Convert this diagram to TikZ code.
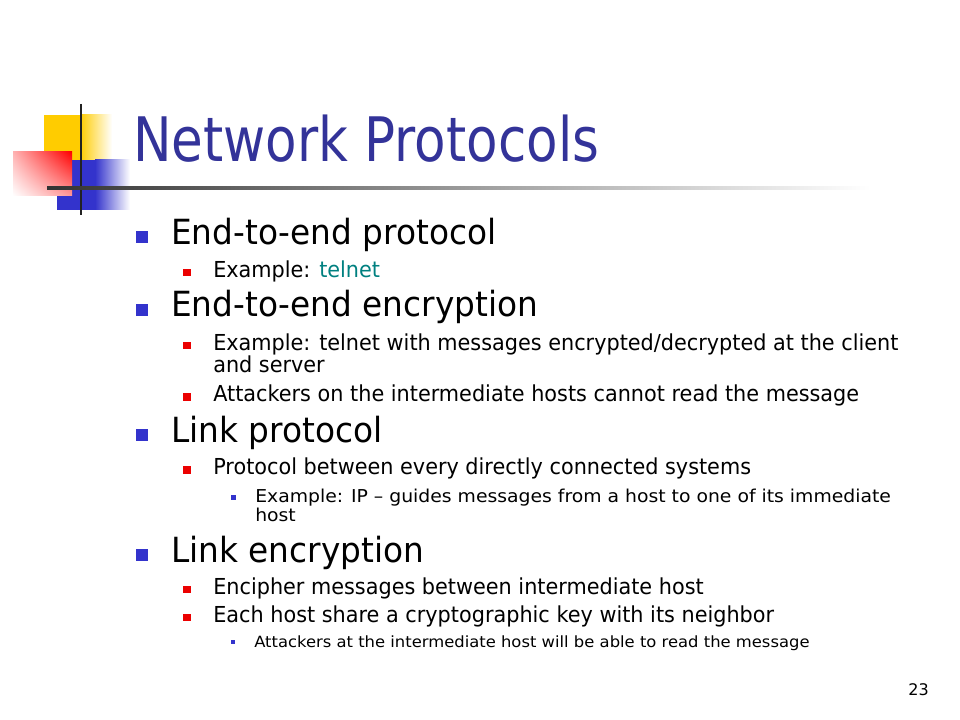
\documentclass[tikz,border=0pt]{standalone}
\usepackage{fontspec}
\usetikzlibrary{shadings}
\setmainfont{DejaVu Sans}
\newfontfamily\titlefont[FakeStretch=0.84]{DejaVu Sans}
\newfontfamily\bodyfont[FakeStretch=0.945]{DejaVu Sans}
\newfontfamily\subfont[FakeStretch=1.06]{DejaVu Sans}

\definecolor{titleblue}{RGB}{51,51,153}
\definecolor{bulblue}{RGB}{51,51,204}
\definecolor{bulred}{RGB}{235,0,0}
\definecolor{logoyellow}{RGB}{255,204,0}
\definecolor{logoline}{RGB}{34,34,34}
\definecolor{telnetteal}{RGB}{0,128,128}

\tikzstyle{titletext}=[anchor=base west, inner sep=0, text=titleblue, font=\titlefont\fontsize{46}{50}\selectfont]
\tikzstyle{lvlone}=[anchor=base west, inner sep=0, font=\bodyfont\fontsize{26}{30}\selectfont]
\tikzstyle{lvltwo}=[anchor=base west, inner sep=0, font=\bodyfont\fontsize{16.5}{19}\selectfont]
\tikzstyle{lvlthree}=[anchor=base west, inner sep=0, font=\subfont\fontsize{13.3}{15}\selectfont]
\tikzstyle{lvlsmall}=[anchor=base west, inner sep=0, font=\subfont\fontsize{11.6}{13}\selectfont]
\tikzstyle{bulone}=[rectangle, fill=bulblue, minimum size=9pt, inner sep=0]
\tikzstyle{bultwo}=[rectangle, fill=bulred, minimum size=5.5pt, inner sep=0]
\tikzstyle{bulthree}=[rectangle, fill=bulblue, minimum size=3.75pt, inner sep=0]
\tikzstyle{pagenum}=[anchor=base east, inner sep=0, font=\fontsize{12}{14}\selectfont]

\begin{document}
\begin{tikzpicture}[x=0.75pt, y=-0.75pt]
        \useasboundingbox[fill=white] (0,0) rectangle (960,720);
        % logo
        \fill[logoyellow] (44,115) rectangle (80,160);
        \shade[left color=logoyellow, right color=white] (80,115) rectangle (112,160);
        \fill[bulblue] (57,160) rectangle (95,210);
        \shade[left color=bulblue, right color=white] (95,160) rectangle (130,210);
        \shade[upper left=red!30, upper right=red, lower left=white, lower right=red!40] (13,152) rectangle (72,196);
        \draw[logoline, line width=2pt] (81,104) -- (81,215);
        \shade[left color=black!80, middle color=black!25, right color=white] (47,186.5) rectangle (870,189.5);
        % title
        \node[titletext] at (133,162) (title) {Network Protocols};
        % bullets
        \node[bulone] at (142,237) (b1) {};
        \node[lvlone] at (171,245) (etep) {End-to-end protocol};
        \node[bultwo] at (187,272.5) (b2) {};
        \node[lvltwo] at (213,277) (etepexa) {Example: \textcolor{telnetteal}{telnet}};
        \node[bulone] at (142,310) (b3) {};
        \node[lvlone] at (171,316.5) (etee) {End-to-end encryption};
        \node[bultwo] at (187,345.5) (b4) {};
        \node[lvltwo] at (213,350) (eteeexa) {Example: telnet with messages encrypted/decrypted at the client};
        \node[lvltwo] at (213,372) (eteeexb) {and server};
        \node[bultwo] at (187,397) (b5) {};
        \node[lvltwo] at (213,401.5) (eteeatk) {Attackers on the intermediate hosts cannot read the message};
        \node[bulone] at (142,435) (b6) {};
        \node[lvlone] at (171,442) (linkp) {Link protocol};
        \node[bultwo] at (187,470) (b7) {};
        \node[lvltwo] at (213,474.5) (linkpdef) {Protocol between every directly connected systems};
        \node[bulthree] at (233.5,497.5) (b8) {};
        \node[lvlthree] at (255,502.5) (linkpexa) {Example: IP – guides messages from a host to one of its immediate};
        \node[lvlthree] at (255,521) (linkpexb) {host};
        \node[bulone] at (142,555) (b9) {};
        \node[lvlone] at (171,562) (linke) {Link encryption};
        \node[bultwo] at (187,589.5) (b10) {};
        \node[lvltwo] at (213,594) (linkedef) {Encipher messages between intermediate host};
        \node[bultwo] at (187,617.5) (b11) {};
        \node[lvltwo] at (213,622) (linkekey) {Each host share a cryptographic key with its neighbor};
        \node[bulthree, minimum size=3pt] at (233,642) (b12) {};
        \node[lvlsmall] at (254,647) (linkeatk) {Attackers at the intermediate host will be able to read the message};
        % page number
        \node[pagenum] at (929,695) (pnum) {23};
    \end{tikzpicture}
\end{document}
